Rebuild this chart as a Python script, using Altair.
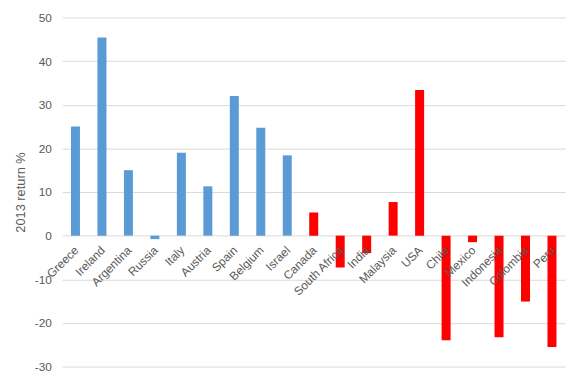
import altair as alt
import pandas as pd

countries = ["Greece", "Ireland", "Argentina", "Russia", "Italy", "Austria", "Spain",
             "Belgium", "Israel", "Canada", "South Africa", "India", "Malaysia", "USA",
             "Chile", "Mexico", "Indonesia", "Colombia", "Peru"]
returns = [25.0, 45.4, 15.0, -0.8, 19.0, 11.3, 32.0, 24.7, 18.4, 5.3, -7.3, -4.0, 7.7,
           33.4, -24.0, -1.5, -23.3, -15.1, -25.5]
groups = ["blue"] * 9 + ["red"] * 10

df = pd.DataFrame({"country": countries, "ret": returns, "grp": groups})

FONT = "Liberation Sans"
GRAY = "#595959"

x = alt.X("country:N", sort=countries, axis=None,
          scale=alt.Scale(paddingInner=0.66, paddingOuter=0.33))

bars = alt.Chart(df).mark_bar().encode(
    x=x,
    y=alt.Y("ret:Q", scale=alt.Scale(domain=[-30, 50], nice=False),
            axis=alt.Axis(values=list(range(-30, 51, 10)), title="2013 return %",
                          labelExpr="toString(datum.value)",
                          grid=True, gridColor="#d9d9d9", domain=False, ticks=False,
                          labelColor=GRAY, labelFont=FONT, labelFontSize=12,
                          labelPadding=11, titleColor=GRAY, titleFont=FONT,
                          titleFontSize=13, titleFontWeight="normal", titlePadding=7)),
    color=alt.Color("grp:N", scale=alt.Scale(domain=["blue", "red"],
                                             range=["#5B9BD5", "#FF0000"]), legend=None),
)

labels = alt.Chart(df).mark_text(
    angle=315, align="right", baseline="middle", dx=-8.4, dy=9.8,
    font=FONT, fontSize=12, color=GRAY
).encode(
    x=x,
    y=alt.datum(0),
    text="country:N",
)

chart = alt.layer(bars, labels).properties(
    width=510, height=354,
    padding={"left": 55, "top": 7, "right": 15, "bottom": 7},
    autosize=alt.AutoSizeParams(type="none"),
).configure_view(stroke=None)

chart.save("out.html", embed_options={"renderer": "svg", "actions": False})
